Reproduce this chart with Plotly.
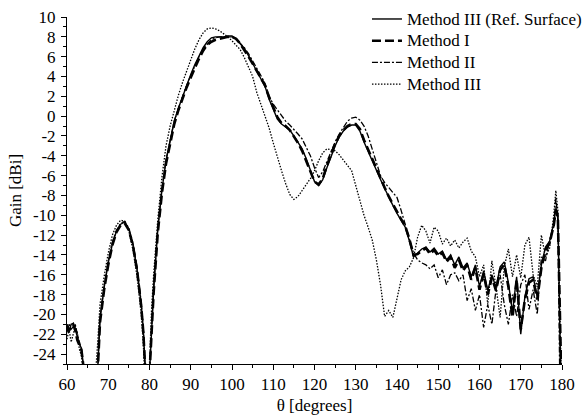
import plotly.graph_objects as go

theta = [60, 60.5, 61, 61.5, 62, 62.5, 63, 63.5, 64, 64.5, 65, 66, 67, 67.5,
         68, 69, 70, 71, 72, 73, 74, 75, 76, 77, 78, 78.5, 79, 79.5,
         80, 80.5, 81, 82, 83, 84, 85, 86, 87, 88, 89, 90,
         91, 92, 93, 94, 95, 96, 97, 98, 99, 100,
         101, 102, 103, 104, 105, 106, 107, 108, 109, 110,
         111, 112, 113, 114, 115, 116, 117, 118, 119, 120,
         121, 122, 123, 124, 125, 126, 127, 128, 129, 130,
         131, 132, 133, 134, 135, 136, 137, 138, 139, 140,
         141, 142, 143, 144, 145, 146, 147, 148, 149, 150,
         151, 152, 153, 154, 155, 156, 157, 158, 159, 160,
         161, 162, 163, 164, 165, 166, 167, 168, 169, 170,
         171, 172, 173, 174, 175, 176, 177, 178, 178.5, 179, 179.5, 180]

gain_ref = [-21.2, -21.8, -21.0, -20.9, -21.5, -22.4, -23.0, -23.4, -25.2, -30, -35, -35, -30, -25.0,
            -20.5, -17.3, -14.8, -12.9, -11.6, -10.9, -10.7, -11.4, -13.0, -15.5, -19.0, -21.5, -25.0, -30,
            -26.0, -21.0, -17.5, -11.5, -7.5, -4.5, -2.4, -0.5, 0.8, 2.0, 3.1, 4.2,
            5.2, 6.1, 6.9, 7.5, 7.9, 8.0, 8.0, 8.0, 8.1, 8.1,
            7.8, 7.3, 6.8, 6.1, 5.3, 4.6, 3.8, 3.0, 1.7, 0.6,
            -0.3, -0.8, -1.1, -1.4, -2.0, -2.6, -3.3, -4.3, -5.4, -6.6,
            -7.0, -6.4, -5.2, -4.0, -3.0, -2.1, -1.5, -1.1, -0.9, -0.9,
            -1.5, -2.6, -3.6, -4.5, -5.4, -6.4, -7.3, -8.2, -9.0, -9.8,
            -10.5, -11.2, -12.6, -14.2, -13.8, -13.4, -13.2, -13.7, -13.3, -13.9,
            -13.6, -14.5, -14.0, -15.0, -14.2, -15.3, -14.8, -16.2, -15.0, -17.2,
            -15.6, -17.6, -16.0, -17.3, -15.2, -14.7, -16.8, -19.8, -16.2, -22.0,
            -18.2, -16.4, -16.2, -18.2, -15.0, -13.2, -12.6, -10.8, -9.3, -9.8, -22, -30]

gain_m1 = [-21.0, -21.6, -21.2, -21.0, -21.6, -22.6, -23.1, -23.6, -25.3, -30, -35, -35, -30, -25.2,
           -20.8, -17.5, -15.0, -13.0, -11.7, -11.0, -10.8, -11.5, -13.1, -15.6, -19.2, -21.8, -25.5, -30,
           -26.0, -21.3, -17.8, -11.8, -7.8, -4.8, -2.7, -0.8, 0.6, 1.8, 2.9, 3.9,
           4.9, 5.8, 6.6, 7.2, 7.5, 7.7, 7.8, 7.9, 8.0, 8.0,
           7.8, 7.3, 6.7, 6.0, 5.3, 4.6, 3.9, 3.1, 1.9, 0.8,
           -0.1, -0.7, -1.0, -1.4, -2.0, -2.7, -3.5, -4.5, -5.6, -6.6,
           -6.9, -6.3, -5.0, -3.8, -2.8, -2.0, -1.4, -1.0, -0.8, -0.8,
           -1.3, -2.4, -3.4, -4.4, -5.3, -6.3, -7.2, -8.1, -8.9, -9.7,
           -10.4, -11.1, -12.4, -14.0, -13.9, -13.6, -13.3, -13.9, -13.5, -14.1,
           -13.8, -14.7, -14.2, -15.3, -14.5, -15.6, -15.0, -16.5, -15.3, -17.5,
           -15.9, -18.0, -16.3, -17.6, -15.5, -15.0, -17.2, -20.3, -16.5, -21.5,
           -18.5, -16.8, -16.5, -18.5, -15.3, -13.5, -12.8, -11.0, -9.5, -10.2, -25.5, -30]

gain_m2 = [-21.8, -21.0, -21.5, -21.2, -21.0, -22.0, -22.8, -23.5, -25.5, -30, -35, -35, -30, -25.3,
           -20.3, -17.2, -14.6, -12.7, -11.5, -10.8, -10.6, -11.3, -12.8, -15.3, -18.8, -21.3, -24.8, -30,
           -26.0, -20.8, -17.3, -11.3, -7.4, -4.4, -2.3, -0.5, 0.8, 2.0, 3.1, 4.1,
           5.1, 6.0, 6.8, 7.3, 7.7, 7.9, 8.0, 8.0, 8.0, 8.0,
           7.8, 7.4, 6.9, 6.3, 5.6, 4.9, 4.1, 3.3, 2.0, 1.2,
           0.6, 0.0, -0.5, -0.9, -1.3, -1.8, -2.3, -3.1, -4.0, -5.2,
           -6.2, -5.6, -4.6, -3.6, -2.6, -1.8, -1.1, -0.5, -0.2, -0.1,
           -0.4, -1.0, -2.0, -3.3, -4.8, -6.0, -6.7, -7.2, -7.7, -8.2,
           -9.5, -11.0, -12.3, -13.8, -14.5, -14.8, -15.0, -15.4, -15.0, -16.3,
           -15.5, -17.0, -16.0, -15.8, -16.6, -16.0, -18.6, -17.4, -19.6, -18.0,
           -21.3, -19.0, -21.0, -17.5, -16.0, -19.0, -21.0, -18.0, -20.2, -17.0,
           -16.0, -19.5, -17.5, -20.0, -14.2, -14.6, -12.5, -11.2, -8.2, -10.5, -28, -30]

gain_m3 = [-22.5, -21.5, -22.8, -22.0, -21.2, -21.8, -23.5, -24.2, -26.0, -30, -35, -35, -25.5, -22.5,
           -19.0, -16.2, -13.8, -12.0, -11.0, -10.5, -10.6, -11.6, -13.5, -16.2, -20.0, -23.0, -27.0, -32,
           -25.0, -19.5, -16.0, -10.5, -6.2, -3.0, -1.0, 0.7, 2.1, 3.4, 4.6, 5.7,
           6.8, 7.7, 8.4, 8.8, 8.9, 8.8, 8.6, 8.3, 8.0, 7.6,
           7.2, 6.7, 5.9, 5.0, 4.0, 2.4, 1.2, 0.0, -1.2, -2.7,
           -4.2, -5.5, -6.8, -7.9, -8.4, -8.1, -7.5, -6.9, -6.3, -5.5,
           -4.5, -3.7, -3.3, -3.4, -3.5, -3.9, -4.4, -4.9, -5.5, -7.0,
           -8.5, -10.0, -11.2, -12.5, -14.5, -17.0, -20.2, -19.6, -20.3, -18.5,
           -16.5, -15.6, -15.2, -14.3, -12.2, -11.0, -11.6, -12.8, -11.2, -11.6,
           -12.9, -12.3, -13.1, -12.5, -13.3, -12.7, -12.3, -13.6, -14.2, -16.2,
           -15.0, -19.0, -14.6, -17.2, -20.3, -15.2, -13.4, -16.2, -14.0, -16.3,
           -13.0, -12.2, -16.0, -17.2, -12.0, -14.2, -13.3, -10.0, -7.5, -9.5, -26, -30]

names = ["Method III (Ref. Surface)", "Method I", "Method II", "Method III"]
ytick_vals = [-24, -22, -20, -18, -16, -14, -12, -10, -8, -6, -4, -2, 0, 2, 4, 6, 8, 10]
ytick_text = ["-24", "-22", "-20", "-18", "-16", "-14", "-12", "-10", "-8", "-6", "-4", "-2",
              "0", "2", "4", "6", "8", "10"]
xtick_vals = [60, 70, 80, 90, 100, 110, 120, 130, 140, 150, 160, 170, 180]

FONT = "Liberation Serif"
FS = 17


def legend_label(s):
    return "<span style='font-size:17px'>" + s + "</span>"


fig = go.Figure()
fig.add_trace(go.Scatter(x=theta, y=gain_ref, mode="lines", name=legend_label(names[0]),
                         line=dict(color="black", width=1.4, dash="solid")))
fig.add_trace(go.Scatter(x=theta, y=gain_m1, mode="lines", name=legend_label(names[1]),
                         line=dict(color="black", width=2.6, dash="9px,4px")))
fig.add_trace(go.Scatter(x=theta, y=gain_m2, mode="lines", name=legend_label(names[2]),
                         line=dict(color="black", width=1.3, dash="6px,2px,2px,2px")))
fig.add_trace(go.Scatter(x=theta, y=gain_m3, mode="lines", name=legend_label(names[3]),
                         line=dict(color="black", width=1.3, dash="1.5px,1.5px")))

fig.update_layout(
    width=585, height=418,
    margin=dict(l=67, r=23, t=17, b=54, autoexpand=False),
    paper_bgcolor="white", plot_bgcolor="white",
    font=dict(family=FONT, size=FS, color="black"),
    showlegend=True,
    legend=dict(x=0.606, y=1.04, xanchor="left", yanchor="top",
                bgcolor="rgba(0,0,0,0)", font=dict(family=FONT, size=14.4),
                tracegroupgap=0),
    xaxis=dict(range=[60, 180], tickvals=xtick_vals, showgrid=False, zeroline=False,
               showline=True, linecolor="black", linewidth=1,
               ticks="outside", ticklen=5, tickcolor="black",
               minor=dict(dtick=5, tick0=60, ticks="outside", ticklen=3, tickcolor="black"),
               title=dict(text="θ [degrees]", standoff=5, font=dict(family=FONT, size=FS)),
               tickfont=dict(family=FONT, size=FS)),
    yaxis=dict(range=[-25, 10], tickvals=ytick_vals, ticktext=ytick_text, showgrid=False,
               zeroline=False, showline=True, linecolor="black", linewidth=1,
               ticks="outside", ticklen=5, tickcolor="black", ticklabelstandoff=2,
               minor=dict(dtick=1, tick0=0, ticks="outside", ticklen=3, tickcolor="black"),
               title=dict(text="Gain [dBi]", standoff=6, font=dict(family=FONT, size=FS)),
               tickfont=dict(family=FONT, size=FS)),
)

fig.write_html("out.html")
